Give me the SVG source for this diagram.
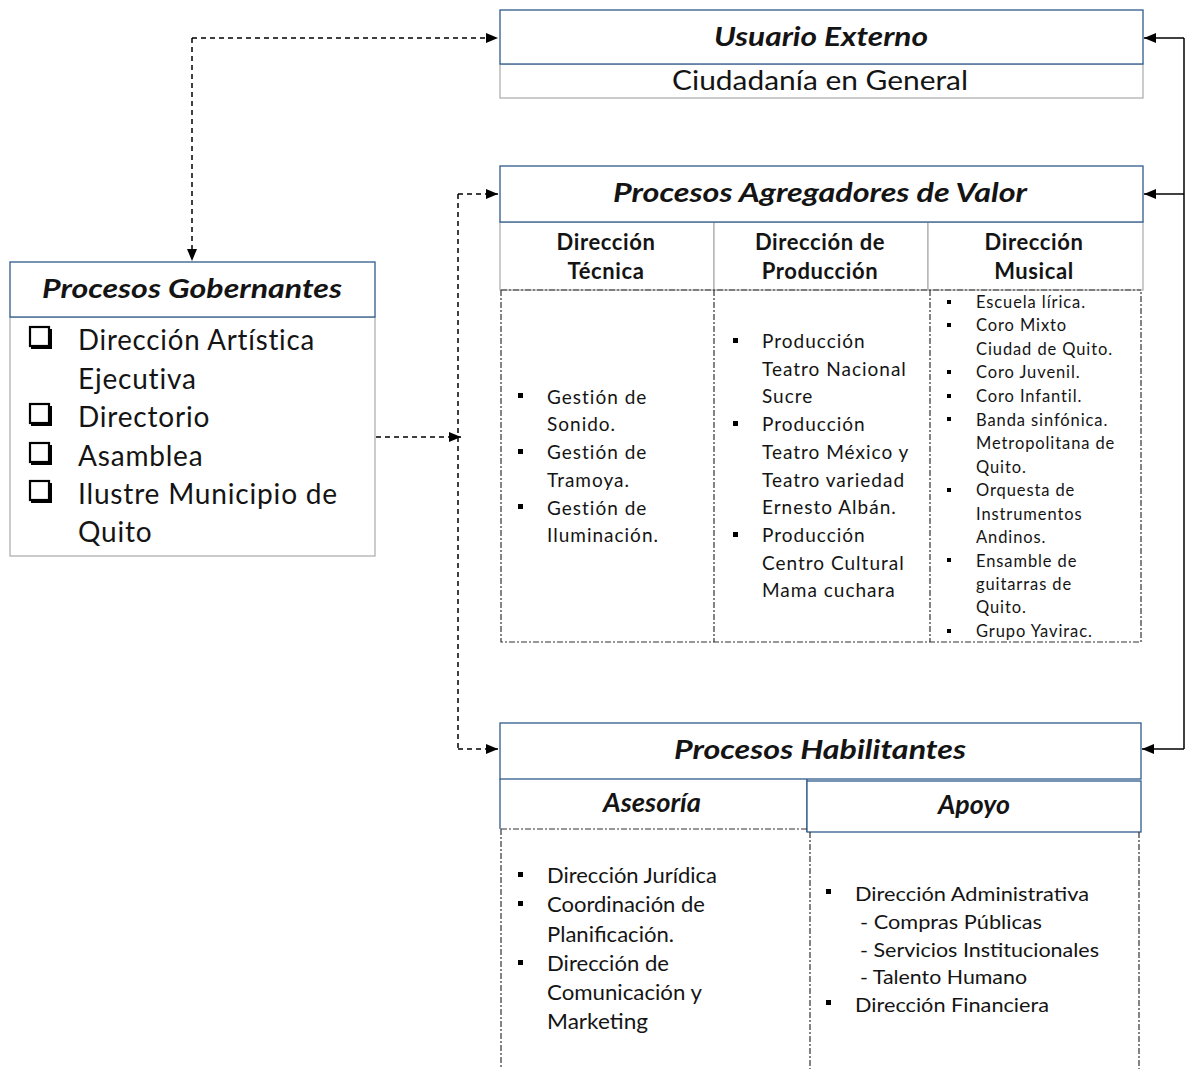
<svg xmlns="http://www.w3.org/2000/svg" width="1187" height="1069" viewBox="0 0 1187 1069">
<style>
text{font-family:Lato,"Liberation Sans",sans-serif;fill:#141414}
.t{font-weight:bold;font-style:italic;font-size:27px;text-anchor:middle}
.h{font-weight:bold;font-size:22px;letter-spacing:0.6px;text-anchor:middle}
.blue{fill:#fff;stroke:#2f5b8c;stroke-width:1.3}
.grey{fill:#fff;stroke:#b0b0b0;stroke-width:1.3}
.dd{fill:none;stroke:#333;stroke-width:1.2;stroke-dasharray:6 2 2 2}
.b{font-size:19px;letter-spacing:1px}
.m{font-size:16.5px;letter-spacing:0.9px}
.g{font-size:28px;letter-spacing:0.8px}
.con{fill:none;stroke:#000;stroke-width:1.5}
.dash{stroke-dasharray:5 4}
.bul{fill:#000}
</style>
<defs>
<marker id="ar" markerUnits="userSpaceOnUse" viewBox="0 0 12 10" refX="12" refY="5" markerWidth="12" markerHeight="10" orient="auto">
<path d="M0,0 L12,5 L0,10 z" fill="#000"/>
</marker>
</defs>

<g id="connectors">
<path class="con dash" d="M192,38 L498,38" marker-end="url(#ar)"/>
<path class="con dash" d="M192,38 L192,261" marker-end="url(#ar)"/>
<path class="con dash" d="M376,437 L461,437" marker-end="url(#ar)"/>
<path class="con dash" d="M458,194 L458,749"/>
<path class="con dash" d="M458,194 L498,194" marker-end="url(#ar)"/>
<path class="con dash" d="M458,749 L498,749" marker-end="url(#ar)"/>
<path class="con" d="M1184,38 L1184,749"/>
<path class="con" d="M1184,38 L1144,38" marker-end="url(#ar)"/>
<path class="con" d="M1184,194 L1144,194" marker-end="url(#ar)"/>
<path class="con" d="M1184,749 L1142,749" marker-end="url(#ar)"/>
</g>

<g id="usuario-externo">
<rect class="grey" x="500" y="64" width="643" height="34"/>
<rect class="blue" x="500" y="10" width="643" height="54"/>
<text class="t" x="821" y="46" textLength="214" lengthAdjust="spacingAndGlyphs">Usuario Externo</text>
<text x="820" y="90" font-size="27" text-anchor="middle" textLength="296" lengthAdjust="spacingAndGlyphs">Ciudadanía en General</text>
</g>

<g id="procesos-gobernantes">
<rect class="grey" x="10" y="317" width="365" height="239"/>
<rect class="blue" x="10" y="262" width="365" height="55"/>
<text class="t" x="192" y="298" textLength="300" lengthAdjust="spacingAndGlyphs">Procesos Gobernantes</text>
<g fill="none" stroke="#000">
<rect x="30" y="327" width="19" height="19" stroke-width="2.2"/>
<rect x="30" y="404" width="19" height="19" stroke-width="2.2"/>
<rect x="30" y="443" width="19" height="19" stroke-width="2.2"/>
<rect x="30" y="481" width="19" height="19" stroke-width="2.2"/>
</g>
<g fill="#000">
<rect x="31" y="346" width="20" height="3"/><rect x="49" y="329" width="3" height="20"/>
<rect x="31" y="423" width="20" height="3"/><rect x="49" y="406" width="3" height="20"/>
<rect x="31" y="462" width="20" height="3"/><rect x="49" y="445" width="3" height="20"/>
<rect x="31" y="500" width="20" height="3"/><rect x="49" y="483" width="3" height="20"/>
</g>
<text class="g" x="78" y="350" textLength="237" lengthAdjust="spacingAndGlyphs">Dirección Artística</text>
<text class="g" x="78" y="389">Ejecutiva</text>
<text class="g" x="78" y="427">Directorio</text>
<text class="g" x="78" y="466">Asamblea</text>
<text class="g" x="78" y="504" textLength="260" lengthAdjust="spacingAndGlyphs">Ilustre Municipio de</text>
<text class="g" x="78" y="542">Quito</text>
</g>

<g id="procesos-agregadores">
<rect class="grey" x="500" y="222" width="214" height="68"/>
<rect class="grey" x="714" y="222" width="214" height="68"/>
<rect class="grey" x="928" y="222" width="215" height="68"/>
<rect class="blue" x="500" y="166" width="643" height="56"/>
<text class="t" x="820" y="202" textLength="414" lengthAdjust="spacingAndGlyphs">Procesos Agregadores de Valor</text>
<text class="h" x="606" y="250">Dirección</text>
<text class="h" x="606" y="279">Técnica</text>
<text class="h" x="820" y="250">Dirección de</text>
<text class="h" x="820" y="279">Producción</text>
<text class="h" x="1034" y="250">Dirección</text>
<text class="h" x="1034" y="279">Musical</text>
<path class="dd" d="M501,290 H1141 M501,290 V642 H1141 V290 M714,290 V642 M930,290 V642"/>
</g>

<g id="direccion-tecnica">
<rect class="bul" x="518" y="393" width="5" height="5"/>
<rect class="bul" x="518" y="449" width="5" height="5"/>
<rect class="bul" x="518" y="504" width="5" height="5"/>
<text class="b" x="547" y="404">Gestión de</text>
<text class="b" x="547" y="431">Sonido.</text>
<text class="b" x="547" y="459">Gestión de</text>
<text class="b" x="547" y="487">Tramoya.</text>
<text class="b" x="547" y="515">Gestión de</text>
<text class="b" x="547" y="542">Iluminación.</text>
</g>

<g id="direccion-produccion">
<rect class="bul" x="733" y="338" width="5" height="5"/>
<rect class="bul" x="733" y="421" width="5" height="5"/>
<rect class="bul" x="733" y="532" width="5" height="5"/>
<text class="b" x="762" y="348">Producción</text>
<text class="b" x="762" y="376">Teatro Nacional</text>
<text class="b" x="762" y="403">Sucre</text>
<text class="b" x="762" y="431">Producción</text>
<text class="b" x="762" y="459">Teatro México y</text>
<text class="b" x="762" y="487">Teatro variedad</text>
<text class="b" x="762" y="514">Ernesto Albán.</text>
<text class="b" x="762" y="542">Producción</text>
<text class="b" x="762" y="570">Centro Cultural</text>
<text class="b" x="762" y="597">Mama cuchara</text>
</g>

<g id="direccion-musical">
<rect class="bul" x="947" y="300" width="4" height="4"/>
<rect class="bul" x="947" y="323" width="4" height="4"/>
<rect class="bul" x="947" y="370" width="4" height="4"/>
<rect class="bul" x="947" y="394" width="4" height="4"/>
<rect class="bul" x="947" y="417" width="4" height="4"/>
<rect class="bul" x="947" y="488" width="4" height="4"/>
<rect class="bul" x="947" y="558" width="4" height="4"/>
<rect class="bul" x="947" y="629" width="4" height="4"/>
<text class="m" x="976" y="308">Escuela lírica.</text>
<text class="m" x="976" y="331">Coro Mixto</text>
<text class="m" x="976" y="355">Ciudad de Quito.</text>
<text class="m" x="976" y="378">Coro Juvenil.</text>
<text class="m" x="976" y="402">Coro Infantil.</text>
<text class="m" x="976" y="426">Banda sinfónica.</text>
<text class="m" x="976" y="449">Metropolitana de</text>
<text class="m" x="976" y="473">Quito.</text>
<text class="m" x="976" y="496">Orquesta de</text>
<text class="m" x="976" y="520">Instrumentos</text>
<text class="m" x="976" y="543">Andinos.</text>
<text class="m" x="976" y="567">Ensamble de</text>
<text class="m" x="976" y="590">guitarras de</text>
<text class="m" x="976" y="613">Quito.</text>
<text class="m" x="976" y="637">Grupo Yavirac.</text>
</g>

<g id="procesos-habilitantes">
<rect class="blue" x="500" y="723" width="641" height="56"/>
<text class="t" x="820" y="759" textLength="292" lengthAdjust="spacingAndGlyphs">Procesos Habilitantes</text>
<path fill="none" stroke="#2f5b8c" stroke-width="1.3" d="M500,779 V829 M807,779 V832"/>
<rect class="blue" x="807" y="781" width="334" height="51"/>
<text class="t" x="652" y="812" font-size="22" textLength="98" lengthAdjust="spacingAndGlyphs">Asesoría</text>
<text class="t" x="974" y="814" font-size="22" textLength="72" lengthAdjust="spacingAndGlyphs">Apoyo</text>
<path class="dd" d="M501,829 H807 M501,829 V1069 M810,832 V1069 M1139,832 V1069"/>
</g>

<g id="asesoria">
<rect class="bul" x="518" y="872" width="5" height="5"/>
<rect class="bul" x="518" y="901" width="5" height="5"/>
<rect class="bul" x="518" y="960" width="5" height="5"/>
<text font-size="21" x="547" y="883" textLength="170" lengthAdjust="spacingAndGlyphs">Dirección Jurídica</text>
<text font-size="21" x="547" y="912" textLength="158" lengthAdjust="spacingAndGlyphs">Coordinación  de</text>
<text font-size="21" x="547" y="942" textLength="127" lengthAdjust="spacingAndGlyphs">Planificación.</text>
<text font-size="21" x="547" y="971" textLength="122" lengthAdjust="spacingAndGlyphs">Dirección de</text>
<text font-size="21" x="547" y="1000" textLength="155" lengthAdjust="spacingAndGlyphs">Comunicación  y</text>
<text font-size="21" x="547" y="1029" textLength="101" lengthAdjust="spacingAndGlyphs">Marketing</text>
</g>

<g id="apoyo">
<rect class="bul" x="826" y="889" width="5" height="5"/>
<rect class="bul" x="826" y="1000" width="5" height="5"/>
<text font-size="19" x="855" y="901" textLength="234" lengthAdjust="spacingAndGlyphs">Dirección Administrativa</text>
<text font-size="19" x="860" y="929" textLength="182" lengthAdjust="spacingAndGlyphs">- Compras Públicas</text>
<text font-size="19" x="860" y="957" textLength="239" lengthAdjust="spacingAndGlyphs">- Servicios Institucionales</text>
<text font-size="19" x="860" y="984" textLength="167" lengthAdjust="spacingAndGlyphs">- Talento Humano</text>
<text font-size="19" x="855" y="1012" textLength="194" lengthAdjust="spacingAndGlyphs">Dirección Financiera</text>
</g>
</svg>
